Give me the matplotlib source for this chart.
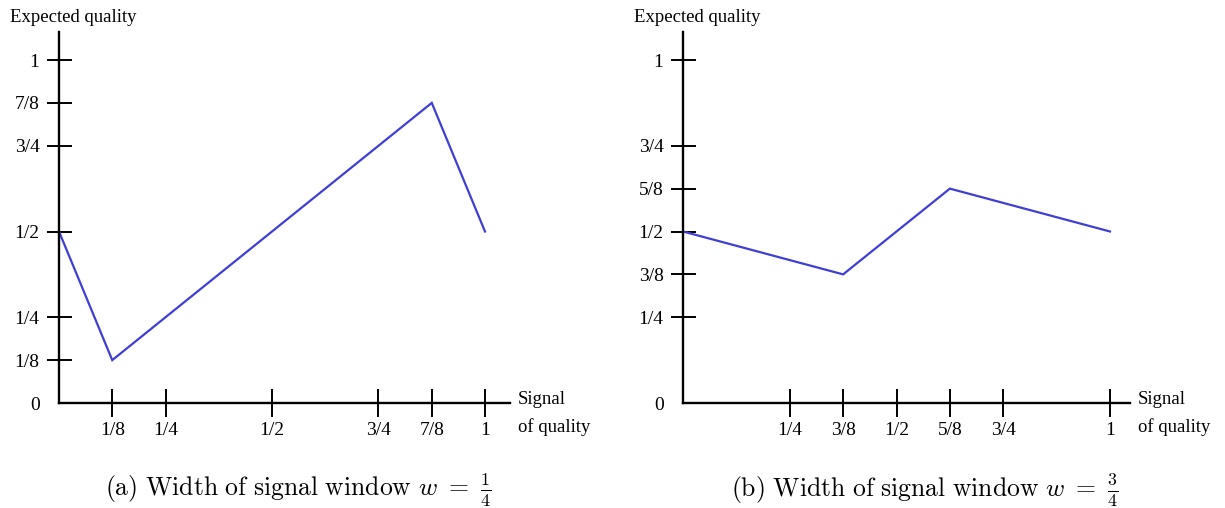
import matplotlib
matplotlib.use("Agg")
import matplotlib.pyplot as plt

# data
left_x = [0, 1/8, 7/8, 1]
left_y = [1/2, 1/8, 7/8, 1/2]
left_xticks = [1/8, 1/4, 1/2, 3/4, 7/8, 1]
left_xlabels = ["1/8", "1/4", "1/2", "3/4", "7/8", "1"]
left_yticks = [0, 1/8, 1/4, 1/2, 3/4, 7/8, 1]
left_ylabels = ["0", "1/8", "1/4", "1/2", "3/4", "7/8", "1"]

right_x = [0, 3/8, 5/8, 1]
right_y = [1/2, 3/8, 5/8, 1/2]
right_xticks = [1/4, 3/8, 1/2, 5/8, 3/4, 1]
right_xlabels = ["1/4", "3/8", "1/2", "5/8", "3/4", "1"]
right_yticks = [0, 1/4, 3/8, 1/2, 5/8, 3/4, 1]
right_ylabels = ["0", "1/4", "3/8", "1/2", "5/8", "3/4", "1"]

captions = [r"$\mathrm{(a)\ Width\ of\ signal\ window}\ w\ =\ \frac{1}{4}$",
            r"$\mathrm{(b)\ Width\ of\ signal\ window}\ w\ =\ \frac{3}{4}$"]

plt.rcParams["mathtext.fontset"] = "cm"
W, H = 1225, 508
fig = plt.figure(figsize=(W / 100, H / 100), dpi=100)

SERIF = "Liberation Serif"
LINE = "#3f3fd6"


def make_panel(x0px, x1px, xend, yvals, xvals, xt, xl, yt, yl, caption, cap_x):
    y0px, y1px, ytop = 403, 60, 32
    sx = (x1px - x0px)
    sy = (y0px - y1px)
    xmax = (xend - x0px) / sx
    ymax = (y0px - ytop) / sy
    ax = fig.add_axes([x0px / W, (H - y0px) / H, (xend - x0px) / W, (y0px - ytop) / H])
    ax.set_xlim(0, xmax)
    ax.set_ylim(0, ymax)
    ax.patch.set_alpha(0)
    for s in ["top", "right"]:
        ax.spines[s].set_visible(False)
    for s in ["left", "bottom"]:
        ax.spines[s].set_linewidth(1.7)
        ax.spines[s].set_color("black")
    ax.plot(xvals, yvals, color=LINE, lw=1.6, clip_on=False, solid_joinstyle="miter")
    ax.set_xticks(xt)
    ax.set_xticklabels(xl, fontfamily=SERIF, fontsize=14)
    ax.set_yticks(yt)
    ax.set_yticklabels(yl, fontfamily=SERIF, fontsize=14)
    ax.tick_params(axis="x", direction="inout", length=20, width=1.4, pad=4)
    ax.tick_params(axis="y", direction="inout", length=18, width=1.4, pad=5)
    t0 = ax.yaxis.get_major_ticks()[0]
    t0.tick1line.set_visible(False)
    # text
    fig.text((x0px - 49) / W, 1 - 17 / H, "Expected quality", fontfamily=SERIF,
             fontsize=13.5, ha="left", va="center")
    fig.text((xend + 8) / W, 1 - 400 / H, "Signal", fontfamily=SERIF,
             fontsize=13.5, ha="left", va="center")
    fig.text((xend + 8) / W, 1 - 427 / H, "of quality", fontfamily=SERIF,
             fontsize=13.5, ha="left", va="center")
    fig.text(cap_x / W, 1 - 497 / H, caption, fontsize=18.5, ha="center", va="baseline")
    return ax


make_panel(59, 485, 510, left_y, left_x, left_xticks, left_xlabels, left_yticks, left_ylabels,
           captions[0], 298)
make_panel(683, 1110, 1130, right_y, right_x, right_xticks, right_xlabels, right_yticks,
           right_ylabels, captions[1], 925)

fig.savefig("out.png", dpi=100)
